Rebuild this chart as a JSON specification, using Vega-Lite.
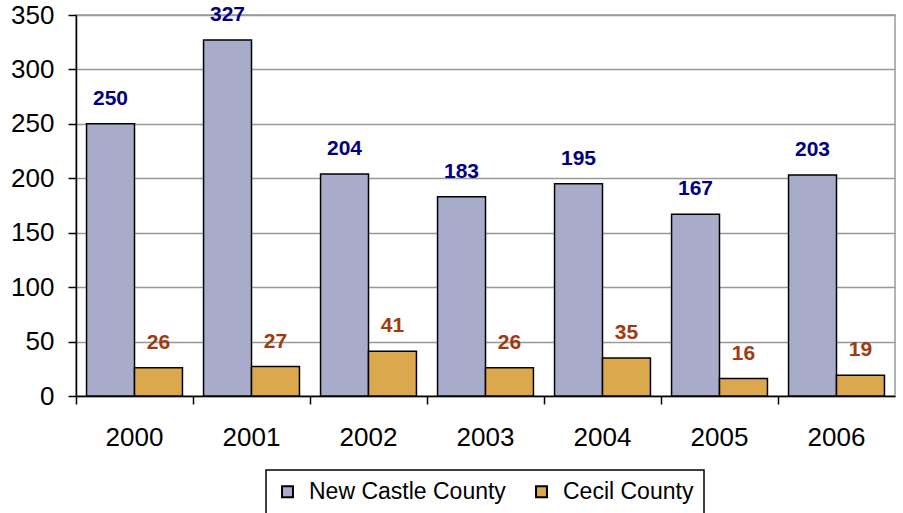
{
  "$schema": "https://vega.github.io/schema/vega-lite/v6.json",
  "width": 819,
  "height": 381,
  "autosize": "none",
  "padding": {"left": 76, "top": 15, "right": 8, "bottom": 117},
  "background": "white",
  "config": {
    "font": "Liberation Sans",
    "view": {"stroke": "#999999", "strokeWidth": 1.5},
    "legend": {"strokeColor": "black", "strokeWidth": 1.5}
  },
  "data": {
    "values": [
      {"year": "2000", "county": "New Castle County", "value": 250},
      {"year": "2000", "county": "Cecil County", "value": 26},
      {"year": "2001", "county": "New Castle County", "value": 327},
      {"year": "2001", "county": "Cecil County", "value": 27},
      {"year": "2002", "county": "New Castle County", "value": 204},
      {"year": "2002", "county": "Cecil County", "value": 41},
      {"year": "2003", "county": "New Castle County", "value": 183},
      {"year": "2003", "county": "Cecil County", "value": 26},
      {"year": "2004", "county": "New Castle County", "value": 195},
      {"year": "2004", "county": "Cecil County", "value": 35},
      {"year": "2005", "county": "New Castle County", "value": 167},
      {"year": "2005", "county": "Cecil County", "value": 16},
      {"year": "2006", "county": "New Castle County", "value": 203},
      {"year": "2006", "county": "Cecil County", "value": 19}
    ]
  },
  "encoding": {
    "x": {
      "field": "year", "type": "nominal",
      "scale": {"paddingInner": 0, "paddingOuter": 0},
      "axis": {
        "title": null, "labelAngle": 0, "bandPosition": 0,
        "labelFontSize": 26, "labelColor": "black", "labelPadding": 33,
        "labelBaseline": "middle",
        "domainColor": "black", "domainWidth": 1.5,
        "tickColor": "black", "tickSize": 8, "tickWidth": 1.5,
        "grid": false
      }
    },
    "xOffset": {
      "field": "county", "type": "nominal",
      "sort": ["New Castle County", "Cecil County"],
      "scale": {"paddingInner": 0, "paddingOuter": 0.22}
    },
    "y": {
      "field": "value", "type": "quantitative",
      "scale": {"domain": [0, 350], "nice": false},
      "axis": {
        "title": null, "values": [0, 50, 100, 150, 200, 250, 300, 350],
        "labelFontSize": 26, "labelColor": "black", "labelPadding": 14,
        "domainColor": "black", "domainWidth": 1.5,
        "tickColor": "black", "tickSize": 8, "tickWidth": 1.5,
        "grid": true, "gridColor": "#999999", "gridWidth": 1.5
      }
    }
  },
  "layer": [
    {
      "mark": {"type": "bar", "stroke": "black", "strokeWidth": 1.5},
      "encoding": {
        "color": {
          "field": "county", "type": "nominal",
          "sort": ["New Castle County", "Cecil County"],
          "scale": {"domain": ["New Castle County", "Cecil County"], "range": ["#A9ABCB", "#DCA84E"]},
          "legend": {
            "title": null, "orient": "none", "direction": "horizontal",
            "legendX": 190, "legendY": 455,
            "labelFontSize": 23, "labelColor": "black", "labelLimit": 400,
            "symbolType": "square", "symbolSize": 120, "symbolStrokeColor": "black", "symbolStrokeWidth": 2,
            "padding": 10, "columnPadding": 24, "labelOffset": 10,
            "fillColor": "white"
          }
        }
      }
    },
    {
      "mark": {"type": "text", "fontWeight": "bold", "fontSize": 21, "baseline": "middle", "dy": -25},
      "encoding": {
        "text": {"field": "value", "type": "quantitative"},
        "fill": {
          "field": "county", "type": "nominal",
          "scale": {"domain": ["New Castle County", "Cecil County"], "range": ["#000080", "#A03A10"]},
          "legend": null
        }
      }
    }
  ],
  "resolve": {"scale": {"fill": "independent"}}
}
